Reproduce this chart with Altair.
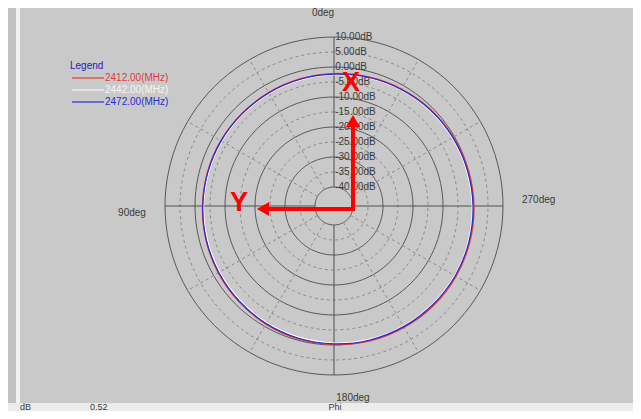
import altair as alt
import pandas as pd

# ---------------- data ----------------
angles = list(range(0, 360, 15))  # Phi in degrees, 0 at top, 90 on the left
db_2412 = [-2.2, -2.5, -2.7, -2.9, -2.8, -2.7, -2.5, -2.2, -1.8, -1.4, -0.9, -0.5,
           -0.2, 0.2, 0.4, 0.6, 0.6, 0.5, 0.3, 0.0, -0.4, -0.8, -1.3, -1.8]
db_2442 = [-2.5, -2.8, -3.0, -3.1, -3.1, -3.0, -2.8, -2.6, -2.3, -1.9, -1.4, -1.0,
           -0.6, -0.3, -0.1, 0.0, 0.1, 0.0, -0.2, -0.5, -0.8, -1.2, -1.6, -2.1]
db_2472 = [-2.4, -2.6, -2.8, -2.9, -2.9, -2.8, -2.6, -2.3, -2.0, -1.6, -1.1, -0.7,
           -0.4, -0.1, 0.1, 0.2, 0.3, 0.2, 0.0, -0.3, -0.6, -1.0, -1.5, -1.9]
freqs = ["2412.00(MHz)", "2442.00(MHz)", "2472.00(MHz)"]
ring_levels = [10, 5, 0, -5, -10, -15, -20, -25, -30, -35, -40]
ring_labels = ["10.00dB", "5.00dB", "0.00dB", "-5.00dB", "-10.00dB", "-15.00dB",
               "-20.00dB", "-25.00dB", "-30.00dB", "-35.00dB", "-40.00dB"]
spoke_angles = list(range(0, 360, 30))

# ---------------- layout constants ----------------
OFF = 46.333  # radial offset so that -40 dB sits on the small inner circle
W, H = 625, 403
xs = alt.Scale(domain=[-108.667, 99.667], nice=False, zero=False)
ys = alt.Scale(domain=[-68.333, 66], nice=False, zero=False)
FONT = "Liberation Sans"
one = pd.DataFrame({"k": [0]})

# ---------------- background ----------------
left_strip = alt.Chart(one).mark_rect(color="#c2c2c2").encode(
    x=alt.value(0), x2=alt.value(8), y=alt.value(0), y2=alt.value(395))
white_band = alt.Chart(one).mark_rect(color="#f2f2f2").encode(
    x=alt.value(8), x2=alt.value(12), y=alt.value(0), y2=alt.value(395))
bottom_bar = alt.Chart(one).mark_rect(color="#ececec").encode(
    x=alt.value(0), x2=alt.value(W), y=alt.value(395), y2=alt.value(H))

# ---------------- grid (rings drawn as closed lines around the centre) ----------------
ring_steps = list(range(0, 360, 3))
ring_rows = pd.DataFrame([{"level": lv, "t": t} for lv in ring_levels for t in ring_steps])
ring_base = alt.Chart(ring_rows).transform_calculate(
    r=f"datum.level + {OFF}", a="datum.t * PI / 180"
).transform_calculate(
    gx="-datum.r * sin(datum.a)", gy="datum.r * cos(datum.a)"
)
ring_enc = dict(x=alt.X("gx:Q", scale=xs, axis=None), y=alt.Y("gy:Q", scale=ys, axis=None),
                detail="level:N", order="t:Q")
solid_rings = ring_base.transform_filter("datum.level % 10 == 0").mark_line(
    interpolate="linear-closed", color="#585858", strokeWidth=1).encode(**ring_enc)
dashed_rings = ring_base.transform_filter("datum.level % 10 != 0").mark_line(
    interpolate="linear-closed", color="#8a8a8a", strokeWidth=1, strokeDash=[3, 3]
).encode(**ring_enc)

spokes = pd.DataFrame({"angle": spoke_angles})
spoke_base = alt.Chart(spokes).transform_calculate(
    a="datum.angle * PI / 180",
).transform_calculate(
    x1=f"-{OFF - 40} * sin(datum.a)", y1=f"{OFF - 40} * cos(datum.a)",
    x2=f"-{OFF + 10} * sin(datum.a)", y2=f"{OFF + 10} * cos(datum.a)",
)
spoke_enc = dict(x=alt.X("x1:Q", scale=xs, axis=None), y=alt.Y("y1:Q", scale=ys, axis=None),
                 x2="x2:Q", y2="y2:Q")
solid_spokes = spoke_base.transform_filter("datum.angle % 90 == 0").mark_rule(
    color="#505050", strokeWidth=1).encode(**spoke_enc)
dashed_spokes = spoke_base.transform_filter("datum.angle % 90 != 0").mark_rule(
    color="#8a8a8a", strokeWidth=1, strokeDash=[3, 3]).encode(**spoke_enc)

labels = pd.DataFrame({"level": ring_levels, "label": ring_labels, "lx": 0.4})
ring_text = alt.Chart(labels).transform_calculate(r=f"datum.level + {OFF}").mark_text(
    align="left", baseline="middle", font=FONT, fontSize=10, color="#3c3c3c"
).encode(x=alt.X("lx:Q", scale=xs, axis=None), y=alt.Y("r:Q", scale=ys, axis=None),
         text="label:N")

# ---------------- pattern ----------------
def pattern(values, color, width):
    df = pd.DataFrame({"angle": angles, "db": values})
    return alt.Chart(df).transform_calculate(
        r=f"datum.db + {OFF}", a="datum.angle * PI / 180"
    ).transform_calculate(
        px="-datum.r * sin(datum.a)", py="datum.r * cos(datum.a)"
    ).mark_line(interpolate="cardinal-closed", color=color, strokeWidth=width).encode(
        x=alt.X("px:Q", scale=xs, axis=None), y=alt.Y("py:Q", scale=ys, axis=None),
        order="angle:Q")

white_line = pattern(db_2442, "#ffffff", 1.6)
red_line = pattern(db_2412, "#e23a3a", 1.4)
blue_line = pattern(db_2472, "#2a2ad0", 1.2)

# ---------------- texts ----------------
def txt(s, x, y, color="#3a3a3a", size=10, align="center", weight="normal"):
    return alt.Chart(one).mark_text(
        text=s, align=align, baseline="middle", font=FONT, fontSize=size,
        color=color, fontWeight=weight).encode(x=alt.value(x), y=alt.value(y))

deg0 = txt("0deg", 315, 5)
deg90 = txt("90deg", 124, 205)
deg270 = txt("270deg", 514, 192, align="left")
deg180 = txt("180deg", 345, 390)
phi = txt("Phi", 327, 399, size=9)
dbt = txt("dB", 12, 399, size=9, align="left")
val = txt("0.52", 82, 399, size=9, align="left")

leg_title = txt("Legend", 62, 58, color="#2020b8", align="left")
leg_colors = ["#e23a3a", "#f6f6f6", "#2a2ad0"]
leg_ys = [70, 82, 94]
leg = []
for f, c, yy in zip(freqs, leg_colors, leg_ys):
    leg.append(alt.Chart(one).mark_rule(color=c, strokeWidth=1.2).encode(
        x=alt.value(64), x2=alt.value(96), y=alt.value(yy)))
    leg.append(txt(f, 97, yy, color=c, align="left"))

# ---------------- red annotation arrows ----------------
arrow_v = alt.Chart(one).mark_rule(color="#ff0000", strokeWidth=4, strokeCap="square").encode(
    x=alt.value(345), y=alt.value(201), y2=alt.value(116))
arrow_h = alt.Chart(one).mark_rule(color="#ff0000", strokeWidth=4, strokeCap="square").encode(
    x=alt.value(345), x2=alt.value(258), y=alt.value(201))
head_up = alt.Chart(one).mark_point(shape="triangle-up", filled=True, size=200,
                                    color="#ff0000", opacity=1).encode(
    x=alt.value(345), y=alt.value(113))
head_left = alt.Chart(one).mark_point(shape="triangle-left", filled=True, size=200,
                                      color="#ff0000", opacity=1).encode(
    x=alt.value(255), y=alt.value(201))
lab_x = txt("X", 343, 75, color="#ff0000", size=27, weight="bold")
lab_y = txt("Y", 231, 195, color="#ff0000", size=27, weight="bold")

chart = alt.layer(
    left_strip, white_band, bottom_bar,
    dashed_rings, solid_rings, dashed_spokes, solid_spokes,
    white_line, red_line, blue_line,
    ring_text,
    deg0, deg90, deg270, deg180, phi, dbt, val,
    leg_title, *leg,
    arrow_v, arrow_h, head_up, head_left, lab_x, lab_y,
).properties(
    width=W, height=H, padding=0, background="#c9c9c9",
    autosize=alt.AutoSizeParams(type="none"),
).configure_view(stroke=None)

chart.save("out.html", embed_options={"renderer": "svg", "actions": False})
